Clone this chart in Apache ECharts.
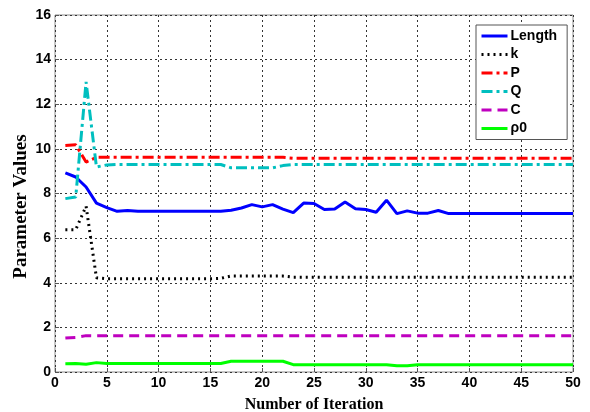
<!DOCTYPE html>
<html>
<head>
<meta charset="utf-8">
<script src="https://cdn.jsdelivr.net/npm/echarts@6/dist/echarts.min.js"></script>
<style>
  html, body { margin: 0; padding: 0; background: #fff; }
  #chart { width: 590px; height: 412px; }
</style>
</head>
<body>
<div id="chart"></div>
<script>
// iteration numbers 1..50
var iterations = [];
for (var i = 1; i <= 50; i++) iterations.push(i);

var lengthVals = [8.92, 8.74, 8.29, 7.57, 7.37, 7.2, 7.24, 7.2, 7.2, 7.2,
  7.2, 7.2, 7.2, 7.2, 7.2, 7.2, 7.25, 7.35, 7.5, 7.4,
  7.5, 7.3, 7.14, 7.57, 7.55, 7.28, 7.31, 7.62, 7.32, 7.28,
  7.16, 7.7, 7.1, 7.22, 7.12, 7.12, 7.24, 7.1, 7.1, 7.1,
  7.1, 7.1, 7.1, 7.1, 7.1, 7.1, 7.1, 7.1, 7.1, 7.1];
var kVals = [6.38, 6.38, 7.43, 4.22, 4.18, 4.18, 4.18, 4.18, 4.18, 4.18,
  4.18, 4.18, 4.18, 4.18, 4.18, 4.2, 4.3, 4.3, 4.3, 4.3,
  4.3, 4.3, 4.25, 4.25, 4.25, 4.25, 4.25, 4.25, 4.25, 4.25,
  4.25, 4.25, 4.25, 4.25, 4.25, 4.25, 4.25, 4.25, 4.25, 4.25,
  4.25, 4.25, 4.25, 4.25, 4.25, 4.25, 4.25, 4.25, 4.25, 4.25];
var pVals = [10.15, 10.18, 9.41, 9.62, 9.62, 9.62, 9.62, 9.62, 9.62, 9.62,
  9.62, 9.62, 9.62, 9.62, 9.62, 9.62, 9.62, 9.62, 9.62, 9.62,
  9.62, 9.62, 9.58, 9.58, 9.58, 9.58, 9.58, 9.58, 9.58, 9.58,
  9.58, 9.58, 9.58, 9.58, 9.58, 9.58, 9.58, 9.58, 9.58, 9.58,
  9.58, 9.58, 9.58, 9.58, 9.58, 9.58, 9.58, 9.58, 9.58, 9.58];
var qVals = [7.77, 7.84, 13.0, 9.19, 9.28, 9.3, 9.3, 9.3, 9.3, 9.3,
  9.3, 9.3, 9.3, 9.3, 9.3, 9.3, 9.15, 9.15, 9.15, 9.15,
  9.15, 9.25, 9.3, 9.3, 9.3, 9.3, 9.3, 9.3, 9.3, 9.3,
  9.3, 9.3, 9.3, 9.3, 9.3, 9.3, 9.3, 9.3, 9.3, 9.3,
  9.3, 9.3, 9.3, 9.3, 9.3, 9.3, 9.3, 9.3, 9.3, 9.3];
var cVals = [1.52, 1.55, 1.63, 1.62, 1.63, 1.63, 1.63, 1.63, 1.63, 1.63,
  1.63, 1.63, 1.63, 1.63, 1.63, 1.63, 1.63, 1.63, 1.63, 1.63,
  1.63, 1.63, 1.63, 1.63, 1.63, 1.63, 1.63, 1.63, 1.63, 1.63,
  1.63, 1.63, 1.63, 1.63, 1.63, 1.63, 1.63, 1.63, 1.63, 1.63,
  1.63, 1.63, 1.63, 1.63, 1.63, 1.63, 1.63, 1.63, 1.63, 1.63];
var rhoVals = [0.37, 0.38, 0.35, 0.42, 0.38, 0.38, 0.38, 0.38, 0.38, 0.38,
  0.38, 0.38, 0.38, 0.38, 0.38, 0.38, 0.48, 0.48, 0.48, 0.48,
  0.48, 0.48, 0.33, 0.33, 0.33, 0.33, 0.33, 0.33, 0.33, 0.33,
  0.33, 0.33, 0.28, 0.28, 0.32, 0.32, 0.32, 0.32, 0.32, 0.32,
  0.32, 0.32, 0.32, 0.32, 0.32, 0.32, 0.32, 0.32, 0.32, 0.32];

var seriesNames = ['Length', 'k', 'P', 'Q', 'C', '\u03c10'];
var seriesColors = ['#0000ff', '#000000', '#ff0000', '#00bfbf', '#bf00bf', '#00ff00'];
var seriesDash = ['solid', [2, 4], [11, 4, 3, 4], [11, 4, 3, 4], [10, 6], 'solid'];
var seriesData = [lengthVals, kVals, pVals, qVals, cVals, rhoVals];

var chart = echarts.init(document.getElementById('chart'));

var tickFont = { color: '#000', fontFamily: 'Liberation Sans', fontWeight: 'bold', fontSize: 14 };

var series = seriesNames.map(function (name, s) {
  return {
    name: name,
    type: 'line',
    showSymbol: false,
    symbol: 'none',
    animation: false,
    data: seriesData[s].map(function (v, j) { return [iterations[j], v]; }),
    lineStyle: { color: seriesColors[s], width: 3, type: seriesDash[s] },
    itemStyle: { color: seriesColors[s] }
  };
});

chart.setOption({
  backgroundColor: '#fff',
  animation: false,
  grid: {
    left: 55, right: 17, top: 15, bottom: 40,
    outerBoundsMode: 'none',
    containLabel: false,
    show: true, borderColor: '#8c8c8c', borderWidth: 1
  },
  legend: {
    orient: 'vertical',
    left: 476,
    top: 25,
    width: 84,
    backgroundColor: '#fff',
    borderColor: '#555',
    borderWidth: 1,
    padding: [4, 10, 4, 4],
    itemGap: 4.5,
    itemWidth: 26,
    itemHeight: 14,
    itemStyle: { color: 'transparent', borderWidth: 0, opacity: 0 },
    lineStyle: { width: 3 },
    textStyle: { color: '#000', fontFamily: 'Liberation Sans', fontWeight: 'bold', fontSize: 14, padding: [0, 0, 0, -2] },
    data: seriesNames
  },
  xAxis: {
    type: 'value',
    min: 0, max: 50, interval: 5,
    name: 'Number of Iteration',
    nameLocation: 'middle',
    nameGap: 25,
    nameMoveOverlap: false,
    nameTextStyle: { color: '#000', fontFamily: 'Liberation Serif', fontWeight: 'bold', fontSize: 16 },
    axisLine: { show: false },
    axisTick: { inside: true, length: 4, lineStyle: { color: '#555' } },
    axisLabel: Object.assign({ margin: 4 }, tickFont),
    splitLine: { show: true, lineStyle: { color: '#333', type: [2, 3], width: 1 } }
  },
  yAxis: {
    type: 'value',
    min: 0, max: 16, interval: 2,
    name: 'Parameter Values',
    nameLocation: 'middle',
    nameGap: 34,
    nameMoveOverlap: false,
    nameTextStyle: { color: '#000', fontFamily: 'Liberation Serif', fontWeight: 'bold', fontSize: 19, verticalAlign: 'middle', padding: [0, 26, 0, 0] },
    axisLine: { show: false },
    axisTick: { inside: true, length: 4, lineStyle: { color: '#555' } },
    axisLabel: Object.assign({ margin: 4 }, tickFont),
    splitLine: { show: true, lineStyle: { color: '#333', type: [2, 3], width: 1 } }
  },
  series: series
});
</script>
</body>
</html>
